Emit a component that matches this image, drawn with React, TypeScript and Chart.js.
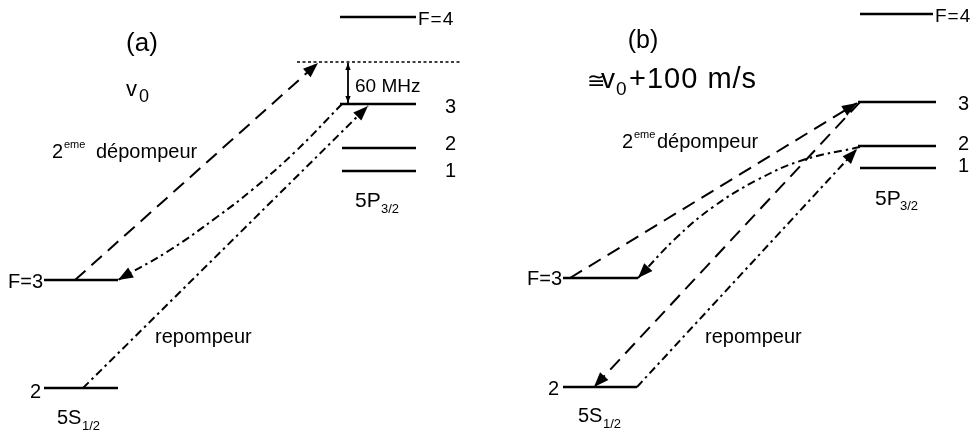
import React, { useEffect, useRef } from 'react';
import { Chart, registerables } from 'chart.js';
Chart.register(...registerables);

const W = 979;
const H = 434;

// ---- diagram values (x in px-like data units, y grows downward) ----
// energy levels: [x start, x end, y]
const levelsA = [[340, 416, 17], [340, 416, 104], [342, 416, 148], [342, 416, 171], [44, 118, 280], [44, 118, 388]];
const levelsB = [[860, 933, 14], [858, 936, 102], [858, 936, 146], [860, 936, 168], [563, 638, 278], [563, 637, 387]];
const detuningLineA = [[297, 62], [460, 62]];

// transitions (panel a)
const dashedUpA = [[75, 280], [318, 63]];
const depumpCurveA = [[342, 104], [296, 151], [252, 190], [217, 217], [170, 250], [118, 280]];
const repumpA = [[83, 388], [368, 106]];
const gapArrowA = [[348, 63], [348, 103]];

// transitions (panel b)
const dashedUpB = [[570, 278], [857, 103]];
const dashedDownB = [[860, 102], [594, 387]];
const depumpCurveB = [[860, 147], [803, 160], [757, 180], [713, 207], [676, 238], [638, 278]];
const repumpB = [[637, 387], [857, 149]];

// text labels: [text, x, baseline y, size, align, letterSpacing]
const labelsA: any[] = [
  ['(a)', 142, 51, 26, 'center', 0],
  ['v', 126, 96, 22, 'left', 0],
  ['0', 139, 102, 18, 'left', 0],
  ['2', 52, 158, 20, 'left', 0],
  ['eme', 64, 148, 11, 'left', 0],
  ['dépompeur', 96, 158, 20, 'left', 0],
  ['repompeur', 155, 343, 20, 'left', 0],
  ['F=4', 418, 25, 19, 'left', 1],
  ['3', 445, 113, 20, 'left', 0],
  ['2', 445, 150, 20, 'left', 0],
  ['1', 445, 177, 20, 'left', 0],
  ['5P', 355, 207, 21, 'left', 0],
  ['3/2', 381, 213, 13, 'left', 0],
  ['F=3', 8, 288, 20, 'left', 0],
  ['2', 30, 398, 20, 'left', 0],
  ['5S', 57, 424, 20, 'left', 0],
  ['1/2', 82, 430, 13, 'left', 0],
  ['60 MHz', 355, 92, 19, 'left', 0],
];
const labelsB: any[] = [
  ['(b)', 643, 48, 25, 'center', 0],
  ['\u2245', 587, 88, 22, 'left', 0],
  ['v', 601, 88, 28, 'left', 0],
  ['0', 616, 95, 19, 'left', 0],
  ['+100 m/s', 629, 88, 29, 'left', 1],
  ['2', 622, 148, 20, 'left', 0],
  ['eme', 634, 138, 11, 'left', 0],
  ['dépompeur', 657, 148, 20, 'left', 0],
  ['repompeur', 705, 343, 20, 'left', 0],
  ['F=4', 935, 22, 19, 'left', 1],
  ['3', 958, 110, 20, 'left', 0],
  ['2', 958, 150, 20, 'left', 0],
  ['1', 958, 172, 20, 'left', 0],
  ['5P', 875, 205, 21, 'left', 0],
  ['3/2', 900, 210, 13, 'left', 0],
  ['F=3', 527, 285, 20, 'left', 0],
  ['2', 548, 395, 20, 'left', 0],
  ['5S', 578, 422, 20, 'left', 0],
  ['1/2', 603, 428, 13, 'left', 0],
];

const DASH = [14, 8];
const DASHDOT = [8, 4, 2.5, 4];

const pts = (arr: number[][]) => arr.map(([x, y]) => ({ x, y }));

function levelDatasets(levels: number[][]) {
  return levels.map(([x0, x1, y]) => ({
    data: [{ x: x0, y }, { x: x1, y }],
    borderColor: '#000',
    borderWidth: 2.5,
    showLine: true,
    pointRadius: 0,
    fill: false,
  }));
}

function arrowDs(arr: number[][], dash: number[], heads: string, tension = 0, width = 2, size = 15) {
  return {
    data: pts(arr),
    borderColor: '#000',
    borderWidth: width,
    borderDash: dash,
    showLine: true,
    pointRadius: 0,
    fill: false,
    tension,
    arrowHeads: heads,
    headSize: size,
  };
}

const arrowPlugin = {
  id: 'arrowHeads',
  afterDatasetsDraw(chart: any) {
    const ctx = chart.ctx;
    chart.data.datasets.forEach((ds: any, i: number) => {
      if (!ds.arrowHeads) return;
      const els = chart.getDatasetMeta(i).data;
      const n = els.length;
      const draw = (tip: any, from: { x: number; y: number }) => {
        const ang = Math.atan2(tip.y - from.y, tip.x - from.x);
        const L = ds.headSize;
        const wHalf = L * 0.38;
        const bx = tip.x - L * Math.cos(ang);
        const by = tip.y - L * Math.sin(ang);
        ctx.save();
        ctx.fillStyle = '#000';
        ctx.beginPath();
        ctx.moveTo(tip.x, tip.y);
        ctx.lineTo(bx + wHalf * Math.sin(ang), by - wHalf * Math.cos(ang));
        ctx.lineTo(bx - wHalf * Math.sin(ang), by + wHalf * Math.cos(ang));
        ctx.closePath();
        ctx.fill();
        ctx.restore();
      };
      if (ds.arrowHeads === 'end' || ds.arrowHeads === 'both') {
        const tip = els[n - 1];
        let from = els[n - 2];
        if (tip.cp1x !== undefined && (Math.abs(tip.cp1x - tip.x) > 0.5 || Math.abs(tip.cp1y - tip.y) > 0.5) && ds.tension > 0) {
          from = { x: tip.cp1x, y: tip.cp1y };
        }
        draw(tip, from);
      }
      if (ds.arrowHeads === 'both') {
        draw(els[0], els[1]);
      }
    });
  },
};

const textPlugin = {
  id: 'diagramText',
  afterDraw(chart: any) {
    const ctx = chart.ctx;
    const xs = chart.scales.x;
    const ys = chart.scales.y;
    [...labelsA, ...labelsB].forEach(([t, x, y, size, align, ls]) => {
      ctx.save();
      ctx.fillStyle = '#000';
      ctx.font = `${size}px "Liberation Sans", Arial, sans-serif`;
      ctx.textAlign = align;
      ctx.textBaseline = 'alphabetic';
      (ctx as any).letterSpacing = `${ls}px`;
      ctx.fillText(t, xs.getPixelForValue(x), ys.getPixelForValue(y));
      ctx.restore();
    });
  },
};

export default function App() {
  const ref = useRef<HTMLCanvasElement | null>(null);
  useEffect(() => {
    document.body.style.margin = '0';
    document.body.style.background = '#fff';
    const datasets: any[] = [
      ...levelDatasets(levelsA),
      ...levelDatasets(levelsB),
      {
        data: pts(detuningLineA),
        borderColor: '#000',
        borderWidth: 1.6,
        borderDash: [3, 2.5],
        showLine: true,
        pointRadius: 0,
        fill: false,
      },
      arrowDs(dashedUpA, DASH, 'end'),
      arrowDs(depumpCurveA, DASHDOT, 'end', 0.4),
      arrowDs(repumpA, DASHDOT, 'end'),
      arrowDs(gapArrowA, [], 'both', 0, 1.8, 7),
      arrowDs(dashedUpB, DASH, 'end'),
      arrowDs(dashedDownB, DASH, 'end'),
      arrowDs(depumpCurveB, DASHDOT, 'end', 0.4),
      arrowDs(repumpB, DASHDOT, 'end'),
    ];
    const chart = new Chart(ref.current as HTMLCanvasElement, {
      type: 'scatter',
      data: { datasets },
      options: {
        animation: false,
        responsive: false,
        devicePixelRatio: 1,
        layout: { padding: 0 },
        plugins: { legend: { display: false }, tooltip: { enabled: false } },
        events: [],
        scales: {
          x: { type: 'linear', min: 0, max: W, display: false },
          y: { type: 'linear', min: 0, max: H, reverse: true, display: false },
        },
      } as any,
      plugins: [arrowPlugin, textPlugin],
    });
    return () => chart.destroy();
  }, []);
  return (
    <div style={{ position: 'absolute', left: 0, top: 0, width: W, height: H, background: '#fff' }}>
      <canvas ref={ref} width={W} height={H} style={{ width: W, height: H, display: 'block' }} />
    </div>
  );
}
